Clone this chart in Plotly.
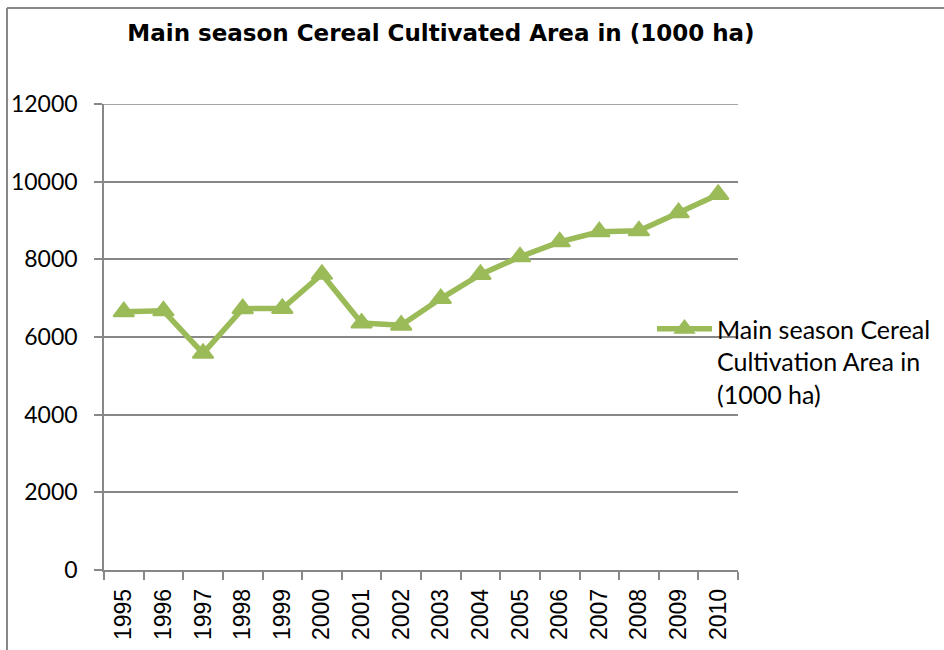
import plotly.graph_objects as go

years = [str(y) for y in range(1995, 2011)]
area = [6650, 6675, 5580, 6730, 6735, 7615, 6360, 6305, 6990, 7610, 8065, 8450, 8710, 8735, 9200, 9670]
y_ticks = [0, 2000, 4000, 6000, 8000, 10000, 12000]
y_tick_labels = ["0", "2000", "4000", "6000", "8000", "10000", "12000"]
series_name = "Main season Cereal<br>Cultivation Area in<br>(1000 ha)"
title_text = "Main season Cereal Cultivated Area in (1000 ha)"

W, H = 944, 650
L, R, T, B = 104, 206, 104, 80
pw, ph = W - L - R, H - T - B

def px_x(x):
    return (x - L) / pw

def px_y(y):
    return (H - B - y) / ph

green = "#9BBB59"
gray = "#878787"

fig = go.Figure()
fig.add_trace(go.Scatter(
    x=years, y=area, mode="lines+markers", name=series_name,
    line=dict(color=green, width=5.5),
    marker=dict(symbol="triangle-up", size=18, color=green, line=dict(color=green, width=2)),
))

fig.update_layout(
    width=W, height=H,
    margin=dict(l=L, r=R, t=T, b=B, autoexpand=False),
    paper_bgcolor="white", plot_bgcolor="white",
    showlegend=True,
    title=dict(text=title_text, x=441 / W, xref="container", xanchor="center",
               y=1 - 33 / H, yref="container", yanchor="middle",
               font=dict(family="DejaVu Sans", size=23, color="black", weight="bold")),
    legend=dict(x=px_x(652), xanchor="left", y=px_y(306), yanchor="top",
                font=dict(family="Lato", size=25, color="black"),
                itemwidth=55, valign="top", bgcolor="rgba(0,0,0,0)"),
    xaxis=dict(type="category", range=[-0.5, len(years) - 0.5], showgrid=False, showline=True,
               linecolor=gray, linewidth=1.5,
               ticks="outside", ticklen=8, tickcolor=gray, tickwidth=1.5, tickson="boundaries",
               tickangle=-90, ticklabelstandoff=8, automargin=False,
               tickfont=dict(family="Liberation Sans", size=23, color="black")),
    yaxis=dict(range=[0, 12000], tickvals=y_ticks, ticktext=y_tick_labels, showgrid=True,
               gridcolor=gray, gridwidth=1.5, automargin=False,
               showline=True, linecolor=gray, linewidth=1.5, zeroline=False,
               ticks="outside", ticklen=8, tickcolor=gray, tickwidth=1.5, ticklabelstandoff=12,
               tickfont=dict(family="Lato", size=23, color="black")),
    shapes=[
        dict(type="line", xref="paper", yref="y", x0=0, x1=1, y0=y_ticks[-1], y1=y_ticks[-1],
             line=dict(color=gray, width=1.5)),
        dict(type="line", xref="paper", yref="paper", x0=px_x(7), x1=px_x(7), y0=px_y(H + 5), y1=px_y(8),
             line=dict(color=gray, width=2)),
        dict(type="line", xref="paper", yref="paper", x0=px_x(7), x1=px_x(W + 5), y0=px_y(8), y1=px_y(8),
             line=dict(color=gray, width=2)),
    ],
)

fig.write_html("out.html", config={"displayModeBar": False},
               post_script="document.body.style.margin='0';document.body.style.padding='0';")
